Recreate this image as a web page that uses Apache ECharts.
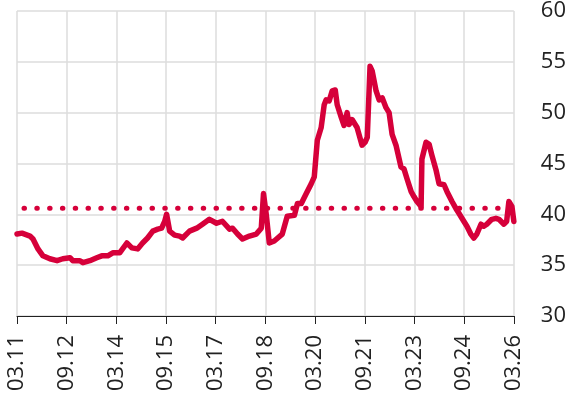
<!DOCTYPE html>
<html>
<head>
<meta charset="utf-8">
<script src="https://cdn.jsdelivr.net/npm/echarts@6/dist/echarts.min.js"></script>
<style>
html,body{margin:0;padding:0;background:#fff;}
#chart{width:569px;height:403px;}
</style>
</head>
<body>
<div id="chart"></div>
<script>
// Months since March 2011
const tickLabels = ['03.11','09.12','03.14','09.15','03.17','09.18','03.20','09.21','03.23','09.24','03.26'];
const months = [0,1.8,4.7,5.8,7.6,9.4,11.9,14.5,16.6,19.2,20.2,22.8,23.9,26.4,28.9,30.7,32.9,34.7,37.2,39.8,41.6,43.7,45.5,47.3,49.2,51.0,52.4,53.5,54.2,55.3,57.1,58.9,60.0,62.5,65.1,67.2,69.7,72.3,74.4,77.0,78.1,79.9,81.7,84.2,86.7,88.5,89.3,90.3,91.4,93.2,96.1,97.9,100.5,101.6,103.0,104.8,106.6,107.7,108.8,110.2,111.3,112.0,113.1,114.2,115.3,116.0,117.5,118.5,119.6,120.3,121.4,123.2,125.0,126.1,126.9,127.9,128.7,130.1,131.2,132.3,133.7,134.8,135.9,137.3,139.1,140.2,141.3,142.8,143.8,144.9,146.4,146.7,148.2,149.3,150.3,151.8,152.9,154.7,155.8,157.6,159.0,160.1,161.2,163.0,164.4,165.5,166.6,168.1,169.1,170.2,172.0,173.5,174.6,176.4,177.4,178.2,179.3,180];
const values = [38.06,38.15,37.86,37.57,36.60,35.92,35.63,35.44,35.63,35.73,35.44,35.44,35.24,35.44,35.73,35.92,35.92,36.21,36.21,37.18,36.70,36.60,37.18,37.67,38.35,38.54,38.64,39.3,40.0,38.35,37.96,37.86,37.67,38.35,38.64,39.03,39.51,39.12,39.32,38.54,38.64,38.06,37.57,37.86,38.06,38.64,42.04,40.0,37.18,37.38,38.06,39.81,39.9,41.07,41.07,42.04,43.01,43.69,47.28,48.54,50.78,51.26,51.16,52.14,52.23,50.78,49.51,48.74,50.0,48.83,49.32,48.54,46.80,47.09,47.57,54.56,54.08,52.14,51.26,51.46,50.49,50.0,47.86,46.80,44.66,44.47,43.50,42.23,41.75,41.26,40.78,45.44,47.09,46.89,45.83,44.37,43.01,42.91,42.23,41.26,40.58,40.10,39.61,38.83,38.06,37.67,38.06,39.03,38.83,39.03,39.51,39.61,39.51,39.03,39.32,41.26,40.78,39.3];
const averageValue = 40.6;

const red = '#d6003a';
const chart = echarts.init(document.getElementById('chart'));
chart.setOption({
  animation: false,
  backgroundColor: '#fff',
  textStyle: { fontFamily: 'Open Sans' },
  grid: { left: 17, right: 54, top: 7, bottom: 87, containLabel: false },
  xAxis: {
    type: 'value', min: 0, max: 180, interval: 18,
    axisLine: { show: true, onZero: false, lineStyle: { color: '#222', width: 1 } },
    axisTick: { show: true, length: 8, lineStyle: { color: '#222', width: 1 } },
    axisLabel: {
      rotate: 90, fontSize: 22, color: '#222', margin: 19, fontFamily: 'Open Sans',
      formatter: v => tickLabels[Math.round(v / 18)]
    },
    splitLine: { show: true, lineStyle: { color: '#dcdcdc', width: 1.5 } }
  },
  yAxis: {
    type: 'value', position: 'right', min: 30, max: 60, interval: 5,
    axisLine: { show: false }, axisTick: { show: false },
    axisLabel: { fontSize: 22, color: '#222', margin: 27, fontFamily: 'Open Sans' },
    splitLine: { show: true, lineStyle: { color: '#dcdcdc', width: 1.5 } }
  },
  series: [
    {
      type: 'line',
      data: [[0, averageValue], [180, averageValue]],
      showSymbol: false, silent: true,
      lineStyle: { color: red, width: 5, type: [0.5, 12.3], cap: 'round', dashOffset: 5.8 },
      z: 2
    },
    {
      type: 'line',
      data: months.map((m, i) => [m, values[i]]),
      showSymbol: false,
      lineStyle: { color: red, width: 5.5, join: 'round', cap: 'round' },
      z: 3
    }
  ]
});
</script>
</body>
</html>
